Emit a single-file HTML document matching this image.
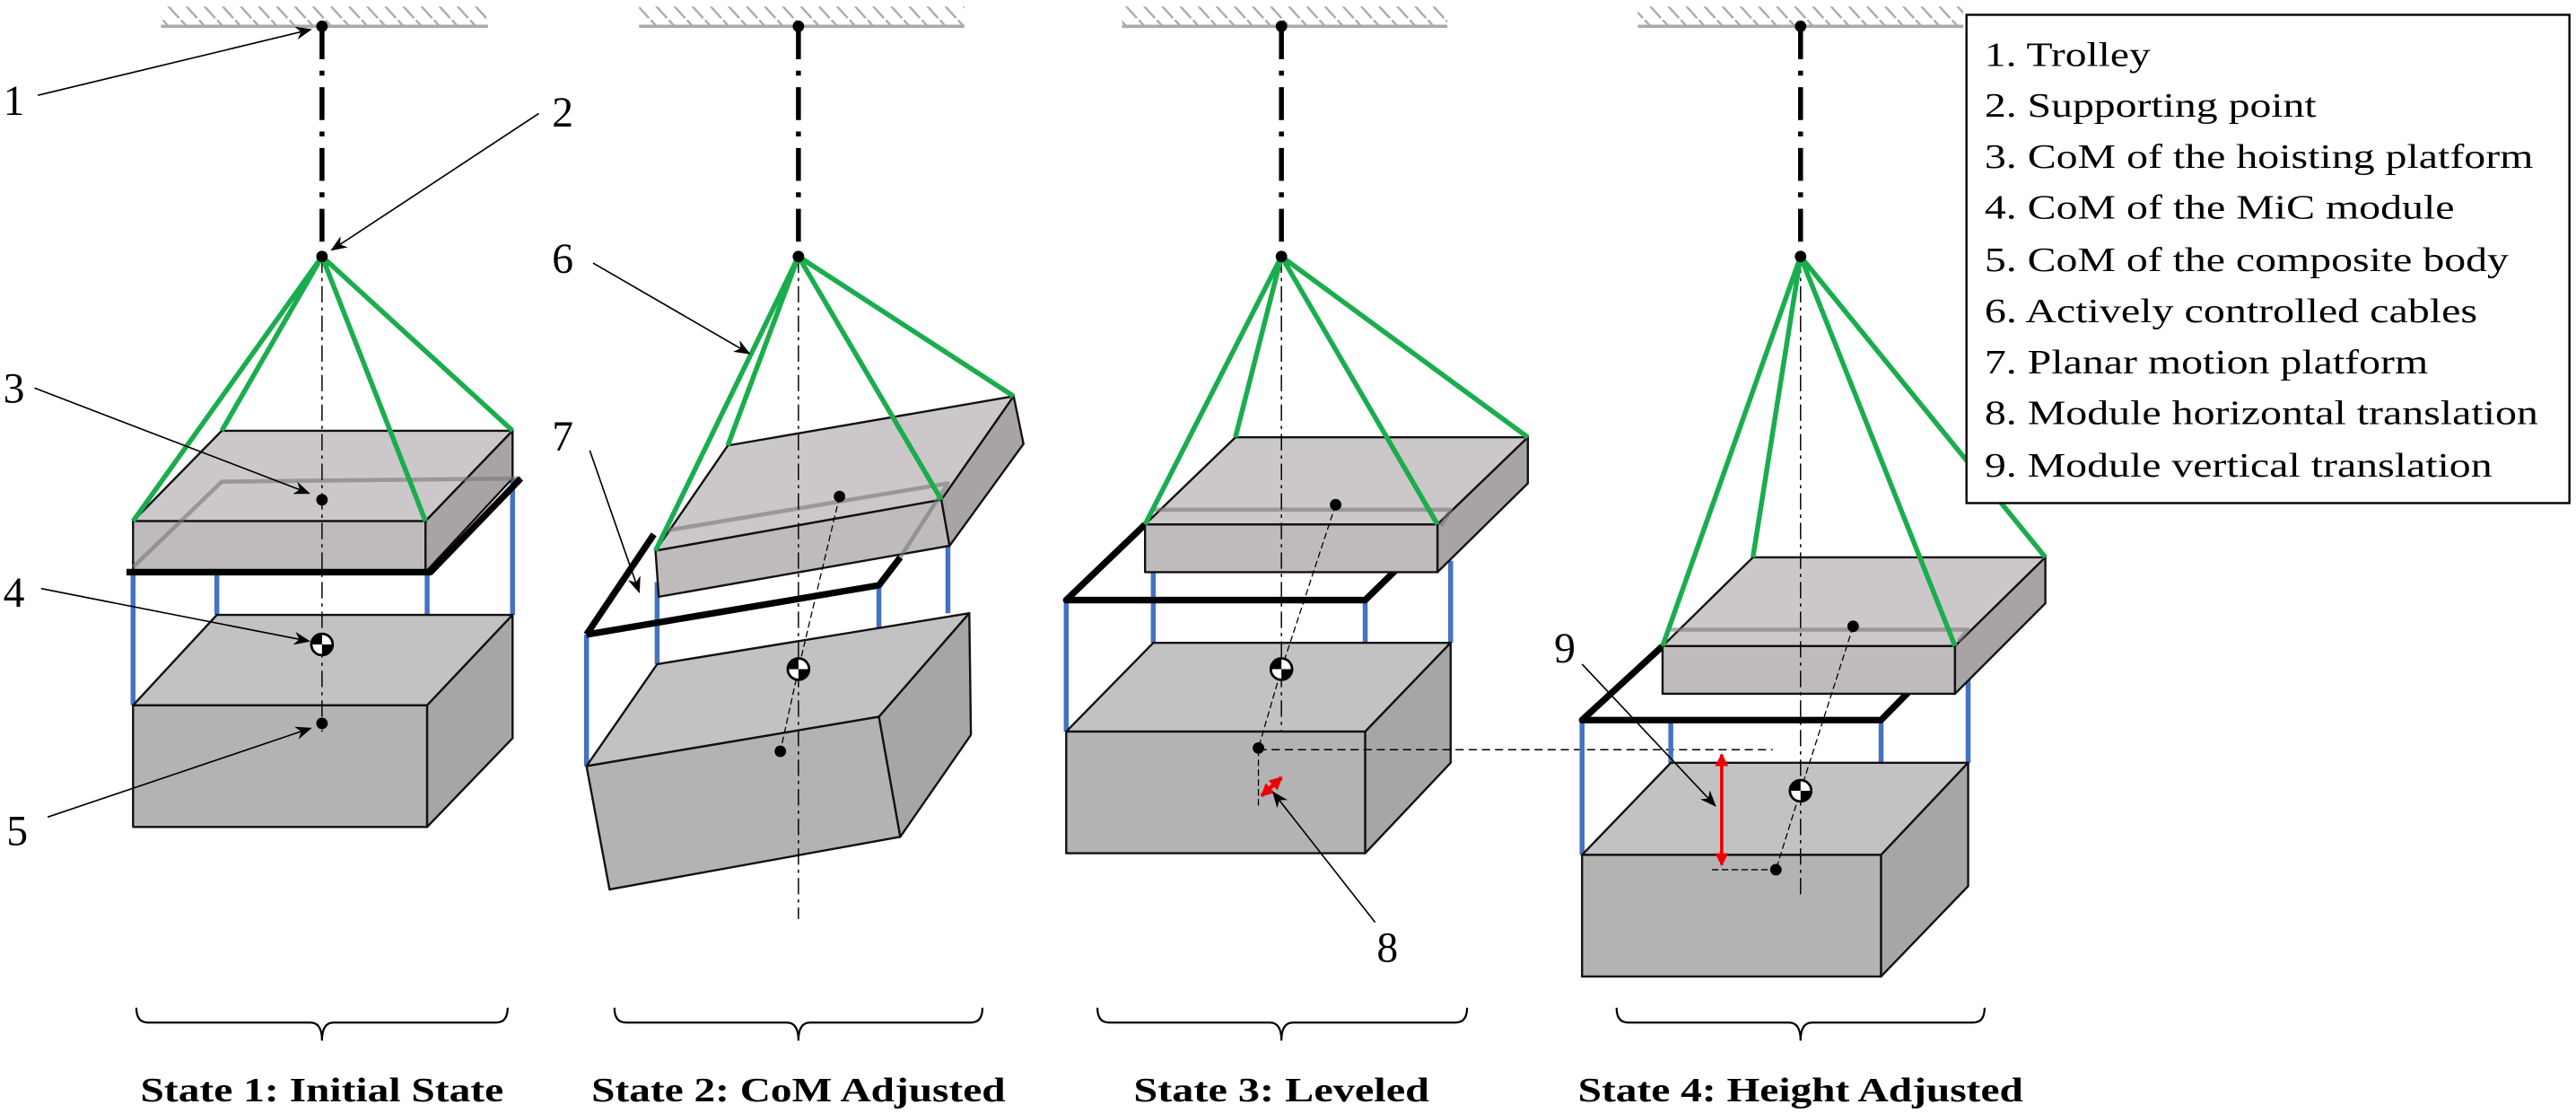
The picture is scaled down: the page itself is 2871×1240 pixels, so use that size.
<!DOCTYPE html>
<html><head><meta charset="utf-8"><style>
html,body{margin:0;padding:0;background:#fff;}
svg{display:block;}
svg text{font-family:"Liberation Serif","Times New Roman",serif;}
</style></head><body>
<svg width="2871" height="1240" viewBox="0 0 1568 677" preserveAspectRatio="none" xmlns="http://www.w3.org/2000/svg" style="font-family:'Liberation Serif',serif">
<defs>
<pattern id="hatch" width="11" height="12" patternUnits="userSpaceOnUse"><line x1="0" y1="0" x2="10" y2="11" stroke="#aaa" stroke-width="1.3"/></pattern>
<marker id="arr" markerWidth="10" markerHeight="8" refX="9" refY="4" orient="auto" markerUnits="userSpaceOnUse"><path d="M0,0 L10,4 L0,8 L3,4 z" fill="#000"/></marker>
<marker id="red" markerWidth="8" markerHeight="8" refX="7" refY="4" orient="auto-start-reverse" markerUnits="userSpaceOnUse"><path d="M0,0 L8,4 L0,8 z" fill="#e00"/></marker>
<g id="com"><circle r="6.5" fill="#fff" stroke="#000" stroke-width="1.5"/><path d="M0,0 L6.5,0 A6.5,6.5 0 0 1 0,6.5 z M0,0 L-6.5,0 A6.5,6.5 0 0 1 0,-6.5 z" fill="#000"/></g>
</defs>

<g>
<rect x="98" y="4" width="199" height="12" fill="url(#hatch)"/><line x1="98" y1="16" x2="297" y2="16" stroke="#aaa" stroke-width="2"/>
<rect x="389" y="4" width="198" height="12" fill="url(#hatch)"/><line x1="389" y1="16" x2="587" y2="16" stroke="#aaa" stroke-width="2"/>
<rect x="683" y="4" width="198" height="12" fill="url(#hatch)"/><line x1="683" y1="16" x2="881" y2="16" stroke="#aaa" stroke-width="2"/>
<rect x="997" y="4" width="198" height="12" fill="url(#hatch)"/><line x1="997" y1="16" x2="1195" y2="16" stroke="#aaa" stroke-width="2"/>
</g>

<g stroke-linejoin="round">
<g stroke="#4472c4" stroke-width="3"><line x1="81" y1="348" x2="81" y2="429"/><line x1="132" y1="348" x2="132" y2="374"/><line x1="260" y1="348" x2="260" y2="429"/><line x1="312" y1="291" x2="312" y2="374"/></g>
<g stroke="#111" stroke-width="1.3">
<polygon points="81,429 132,374 312,374 260,429" fill="#c2c2c2"/>
<rect x="81" y="429" width="179" height="74" fill="#b3b3b3"/>
<polygon points="260,429 312,374 312,449 260,503" fill="#a6a6a6"/>
<polygon points="81,317 135,262 312,262 259,317" fill="#ccc8c9"/>
<rect x="81" y="317" width="178" height="31" fill="#bfbbbc"/>
<polygon points="259,317 312,262 312,291 259,348" fill="#a8a4a5"/>
</g>
<polyline points="81,345 135,293 317,291" fill="none" stroke="#777" stroke-opacity="0.6" stroke-width="2.5"/>
<polyline points="77,348 262,348 317,291" fill="none" stroke="#000" stroke-width="4"/>
<line x1="196" y1="16" x2="196" y2="156" stroke="#000" stroke-width="3" stroke-dasharray="20 7 3 7"/>
<line x1="196" y1="156" x2="196" y2="445" stroke="#000" stroke-width="0.8" stroke-dasharray="10 3 2 3"/>
<g stroke="#1aad4d" stroke-width="3"><line x1="196" y1="156" x2="81" y2="317"/><line x1="196" y1="156" x2="135" y2="262"/><line x1="196" y1="156" x2="259" y2="317"/><line x1="196" y1="156" x2="312" y2="262"/></g>
<circle cx="196" cy="16" r="3.5"/><circle cx="196" cy="156" r="3.5"/><circle cx="196" cy="304" r="3.5"/>
<use href="#com" x="196" y="392"/><circle cx="196" cy="440" r="3.5"/>
</g>

<g stroke-linejoin="round">
<g stroke="#4472c4" stroke-width="3"><line x1="357" y1="386" x2="357" y2="466"/><line x1="400" y1="354" x2="400" y2="404"/><line x1="535" y1="356" x2="535" y2="436"/><line x1="577" y1="332" x2="577" y2="373"/></g>
<g stroke="#111" stroke-width="1.3">
<polygon points="357,466 400,404 590,373 535,436" fill="#c2c2c2"/>
<polygon points="357,466 535,436 548,509 371,541" fill="#b3b3b3"/>
<polygon points="535,436 590,373 591,447 548,509" fill="#a6a6a6"/>
</g>
<polyline points="357,386 535,356 548,339" fill="none" stroke="#000" stroke-width="4"/>
<line x1="357" y1="386" x2="398" y2="325" stroke="#000" stroke-width="4"/>
<g stroke="#111" stroke-width="1.3">
<polygon points="399,335 443,271 617,241 573,304" fill="#ccc8c9"/>
<polygon points="399,335 573,304 578,332 401,363" fill="#bfbbbc"/>
<polygon points="573,304 617,241 623,270 578,332" fill="#a8a4a5"/>
</g>
<polyline points="404,323 577,294 548,339" fill="none" stroke="#777" stroke-opacity="0.6" stroke-width="2.5"/>
<line x1="486" y1="16" x2="486" y2="156" stroke="#000" stroke-width="3" stroke-dasharray="20 7 3 7"/>
<line x1="486" y1="156" x2="486" y2="559" stroke="#000" stroke-width="0.8" stroke-dasharray="10 3 2 3"/>
<polyline points="511,302 486,407 475,457" fill="none" stroke="#000" stroke-width="0.7" stroke-dasharray="4 2"/>
<g stroke="#1aad4d" stroke-width="3"><line x1="486" y1="156" x2="399" y2="335"/><line x1="486" y1="156" x2="443" y2="271"/><line x1="486" y1="156" x2="573" y2="304"/><line x1="486" y1="156" x2="617" y2="241"/></g>
<circle cx="486" cy="16" r="3.5"/><circle cx="486" cy="156" r="3.5"/><circle cx="511" cy="302" r="3.5"/>
<use href="#com" x="486" y="407"/><circle cx="475" cy="457" r="3.5"/>
</g>

<g stroke-linejoin="round">
<g stroke="#4472c4" stroke-width="3"><line x1="649" y1="365" x2="649" y2="445"/><line x1="702" y1="348" x2="702" y2="391"/><line x1="831" y1="365" x2="831" y2="445"/><line x1="883" y1="341" x2="883" y2="391"/></g>
<g stroke="#111" stroke-width="1.3">
<polygon points="649,445 702,391 883,391 831,445" fill="#c2c2c2"/>
<rect x="649" y="445" width="182" height="74" fill="#b3b3b3"/>
<polygon points="831,445 883,391 883,464 831,519" fill="#a6a6a6"/>
</g>
<polyline points="697,319 649,365 831,365 877,320" fill="none" stroke="#000" stroke-width="4"/>
<g stroke="#111" stroke-width="1.3">
<polygon points="697,319 752,266 930,266 875,319" fill="#ccc8c9"/>
<rect x="697" y="319" width="178" height="29" fill="#bfbbbc"/>
<polygon points="875,319 930,266 930,294 875,348" fill="#a8a4a5"/>
</g>
<polyline points="702,310 883,310 877,320" fill="none" stroke="#777" stroke-opacity="0.6" stroke-width="2.5"/>
<line x1="780" y1="16" x2="780" y2="156" stroke="#000" stroke-width="3" stroke-dasharray="20 7 3 7"/>
<line x1="780" y1="156" x2="780" y2="445" stroke="#000" stroke-width="0.8" stroke-dasharray="10 3 2 3"/>
<polyline points="813,307 780,407 766,455" fill="none" stroke="#000" stroke-width="0.7" stroke-dasharray="4 2"/>
<line x1="766" y1="456" x2="1079" y2="456" stroke="#000" stroke-width="0.8" stroke-dasharray="5 3"/>
<line x1="766" y1="456" x2="766" y2="490" stroke="#000" stroke-width="0.7" stroke-dasharray="4 2"/>
<line x1="768" y1="484" x2="780" y2="473" stroke="#e00" stroke-width="2.5" marker-start="url(#red)" marker-end="url(#red)"/>
<g stroke="#1aad4d" stroke-width="3"><line x1="780" y1="156" x2="697" y2="319"/><line x1="780" y1="156" x2="752" y2="266"/><line x1="780" y1="156" x2="875" y2="319"/><line x1="780" y1="156" x2="930" y2="266"/></g>
<circle cx="780" cy="16" r="3.5"/><circle cx="780" cy="156" r="3.5"/><circle cx="813" cy="307" r="3.5"/>
<use href="#com" x="780" y="407"/><circle cx="766" cy="455" r="3.5"/>
</g>

<g stroke-linejoin="round">
<g stroke="#4472c4" stroke-width="3"><line x1="963" y1="438" x2="963" y2="520"/><line x1="1017" y1="438" x2="1017" y2="464"/><line x1="1145" y1="438" x2="1145" y2="520"/><line x1="1198" y1="384" x2="1198" y2="464"/></g>
<g stroke="#111" stroke-width="1.3">
<polygon points="963,520 1017,464 1198,464 1145,520" fill="#c2c2c2"/>
<rect x="963" y="520" width="182" height="74" fill="#b3b3b3"/>
<polygon points="1145,520 1198,464 1198,539 1145,594" fill="#a6a6a6"/>
</g>
<polyline points="1012,393 963,438 1145,438 1198,384" fill="none" stroke="#000" stroke-width="4"/>
<g stroke="#111" stroke-width="1.3">
<polygon points="1012,393 1067,339 1245,339 1190,393" fill="#ccc8c9"/>
<rect x="1012" y="393" width="178" height="29" fill="#bfbbbc"/>
<polygon points="1190,393 1245,339 1245,367 1190,422" fill="#a8a4a5"/>
</g>
<polyline points="1017,383 1198,383 1192,390" fill="none" stroke="#777" stroke-opacity="0.6" stroke-width="2.5"/>
<line x1="1096" y1="16" x2="1096" y2="156" stroke="#000" stroke-width="3" stroke-dasharray="20 7 3 7"/>
<line x1="1096" y1="156" x2="1096" y2="546" stroke="#000" stroke-width="0.8" stroke-dasharray="10 3 2 3"/>
<polyline points="1128,381 1096,481 1081,529" fill="none" stroke="#000" stroke-width="0.7" stroke-dasharray="4 2"/>
<line x1="1042" y1="529" x2="1081" y2="529" stroke="#000" stroke-width="0.8" stroke-dasharray="4 2"/>
<line x1="1048" y1="459" x2="1048" y2="526" stroke="#e00" stroke-width="2" marker-start="url(#red)" marker-end="url(#red)"/>
<g stroke="#1aad4d" stroke-width="3"><line x1="1096" y1="156" x2="1012" y2="393"/><line x1="1096" y1="156" x2="1067" y2="339"/><line x1="1096" y1="156" x2="1190" y2="393"/><line x1="1096" y1="156" x2="1245" y2="339"/></g>
<circle cx="1096" cy="16" r="3.5"/><circle cx="1096" cy="156" r="3.5"/><circle cx="1128" cy="381" r="3.5"/>
<use href="#com" x="1096" y="481"/><circle cx="1081" cy="529" r="3.5"/>
</g>

<g stroke="#000" stroke-width="0.9" fill="none">
<line x1="23" y1="58" x2="189" y2="18" marker-end="url(#arr)"/>
<line x1="328" y1="69" x2="202" y2="152" marker-end="url(#arr)"/>
<line x1="21" y1="236" x2="188" y2="300" marker-end="url(#arr)"/>
<line x1="25" y1="358" x2="188" y2="390" marker-end="url(#arr)"/>
<line x1="29" y1="497" x2="189" y2="443" marker-end="url(#arr)"/>
<line x1="361" y1="160" x2="456" y2="215" marker-end="url(#arr)"/>
<line x1="359" y1="274" x2="389" y2="360" marker-end="url(#arr)"/>
<line x1="837" y1="561" x2="775" y2="482" marker-end="url(#arr)"/>
<line x1="963" y1="404" x2="1044" y2="490" marker-end="url(#arr)"/>
</g>
<g font-size="26" fill="#000">
<text x="2" y="70">1</text><text x="336" y="77">2</text><text x="2" y="245">3</text><text x="2" y="369">4</text>
<text x="4" y="514">5</text><text x="336" y="166">6</text><text x="336" y="274">7</text><text x="838" y="585">8</text><text x="946" y="403">9</text>
</g>

<g fill="none" stroke="#000" stroke-width="1.2">
<path d="M83,613 Q83,622 90,622 L189,622 Q196,622 196,633 Q196,622 203,622 L302,622 Q309,622 309,613"/>
<path d="M374,613 Q374,622 381,622 L479,622 Q486,622 486,633 Q486,622 493,622 L591,622 Q598,622 598,613"/>
<path d="M668,613 Q668,622 675,622 L773,622 Q780,622 780,633 Q780,622 787,622 L886,622 Q893,622 893,613"/>
<path d="M984,613 Q984,622 991,622 L1089,622 Q1096,622 1096,633 Q1096,622 1103,622 L1201,622 Q1208,622 1208,613"/>
</g>
<g font-size="21" font-weight="bold" text-anchor="middle" fill="#000">
<text x="196" y="670" textLength="221" lengthAdjust="spacingAndGlyphs">State 1: Initial State</text>
<text x="486" y="670" textLength="252" lengthAdjust="spacingAndGlyphs">State 2: CoM Adjusted</text>
<text x="780" y="670" textLength="180" lengthAdjust="spacingAndGlyphs">State 3: Leveled</text>
<text x="1096" y="670" textLength="271" lengthAdjust="spacingAndGlyphs">State 4: Height Adjusted</text>
</g>

<g>
<rect x="1197" y="9" width="367" height="297" fill="#fff" stroke="#000" stroke-width="1.3"/>
<g font-size="21" fill="#000">
<text x="1208" y="40" textLength="101" lengthAdjust="spacingAndGlyphs">1. Trolley</text>
<text x="1208" y="71" textLength="202" lengthAdjust="spacingAndGlyphs">2. Supporting point</text>
<text x="1208" y="102" textLength="334" lengthAdjust="spacingAndGlyphs">3. CoM of the hoisting platform</text>
<text x="1208" y="133" textLength="286" lengthAdjust="spacingAndGlyphs">4. CoM of the MiC module</text>
<text x="1208" y="165" textLength="319" lengthAdjust="spacingAndGlyphs">5. CoM of the composite body</text>
<text x="1208" y="196" textLength="300" lengthAdjust="spacingAndGlyphs">6. Actively controlled cables</text>
<text x="1208" y="227" textLength="270" lengthAdjust="spacingAndGlyphs">7. Planar motion platform</text>
<text x="1208" y="258" textLength="337" lengthAdjust="spacingAndGlyphs">8. Module horizontal translation</text>
<text x="1208" y="290" textLength="309" lengthAdjust="spacingAndGlyphs">9. Module vertical translation</text>
</g>
</g>
</svg>
</body></html>
